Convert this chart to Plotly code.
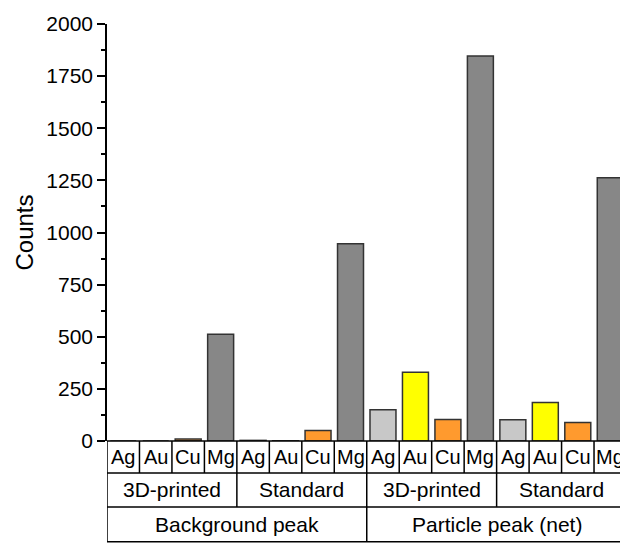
import plotly.graph_objects as go

elements = ["Ag", "Au", "Cu", "Mg"]
samples = ["3D-printed", "Standard"]
peaks = ["Background peak", "Particle peak (net)"]

# values per peak -> sample -> element (Ag, Au, Cu, Mg)
bg_3d = [0, 0, 9, 512]
bg_std = [3, 1, 50, 946]
pp_3d = [150, 330, 103, 1846]
pp_std = [102, 185, 89, 1262]

colors = {"Ag": "#C8C8C8", "Au": "#FFFF00", "Cu": "#FF9A2E", "Mg": "#878787"}

series = [bg_3d, bg_std, pp_3d, pp_std]
xs, ys, cs, labels = [], [], [], []
i = 0
for s in series:
    for e, v in zip(elements, s):
        xs.append(i)
        ys.append(v)
        cs.append(colors[e])
        labels.append(e)
        i += 1
n = len(xs)

fig = go.Figure()
fig.add_trace(go.Bar(
    x=xs, y=ys, width=0.8,
    marker=dict(color=cs, line=dict(color="#333333", width=1.5)),
    showlegend=False, hoverinfo="skip",
))

FONT = "Liberation Sans, Arial, sans-serif"
LW = 1.5
r1, r2, r3 = -0.0767, -0.158, -0.2415

shapes = []
def vline(x, y0, y1):
    shapes.append(dict(type="line", xref="x", yref="paper", x0=x, x1=x, y0=y0, y1=y1,
                       line=dict(color="black", width=LW)))
def hline(y):
    shapes.append(dict(type="line", xref="x", yref="paper", x0=-0.5, x1=n - 0.5, y0=y, y1=y,
                       line=dict(color="black", width=LW)))

for k in range(n + 1):
    vline(k - 0.5, 0, r1)
for k in range(0, n + 1, 4):
    vline(k - 0.5, r1, r2)
for k in range(0, n + 1, 8):
    vline(k - 0.5, r2, r3)
hline(0)
hline(r1)
hline(r2)
hline(r3)

annotations = []
def label(x, y, text, size):
    annotations.append(dict(x=x, y=y, xref="x", yref="paper", text=text,
                            xanchor="center", yanchor="middle", showarrow=False,
                            font=dict(size=size, color="black", family=FONT)))

for x, lab in zip(xs, labels):
    label(x, (0 + r1) / 2, lab, 20)
for j in range(len(peaks) * len(samples)):
    label(j * 4 + 1.5, (r1 + r2) / 2, samples[j % 2], 21)
for j, p in enumerate(peaks):
    label(j * 8 + 3.5, (r2 + r3) / 2, p, 21)

fig.update_layout(
    width=620, height=543,
    margin=dict(l=107, r=0, t=24, b=102, autoexpand=False),
    paper_bgcolor="white", plot_bgcolor="white",
    font=dict(family=FONT, color="black"),
    shapes=shapes, annotations=annotations,
    bargap=0.2,
    xaxis=dict(range=[-0.5, 15.3], showticklabels=False, ticks="", showgrid=False,
               zeroline=False, showline=False, fixedrange=True),
    yaxis=dict(range=[0, 2000], tickmode="linear", tick0=0, dtick=250,
               ticks="outside", ticklen=8, tickwidth=1.5, tickcolor="black",
               showline=True, linecolor="black", linewidth=1.5,
               showgrid=False, zeroline=False, automargin=False, fixedrange=True,
               tickfont=dict(size=21, family=FONT, color="black"),
               minor=dict(dtick=125, ticks="outside", ticklen=4.5, tickwidth=1.5,
                          tickcolor="black", showgrid=False),
               title=dict(text="Counts", font=dict(size=24, family=FONT, color="black"),
                          standoff=6)),
)

fig.write_html("out.html", config={"displayModeBar": False},
               post_script="document.body.style.margin='0';document.body.style.overflow='hidden';")
